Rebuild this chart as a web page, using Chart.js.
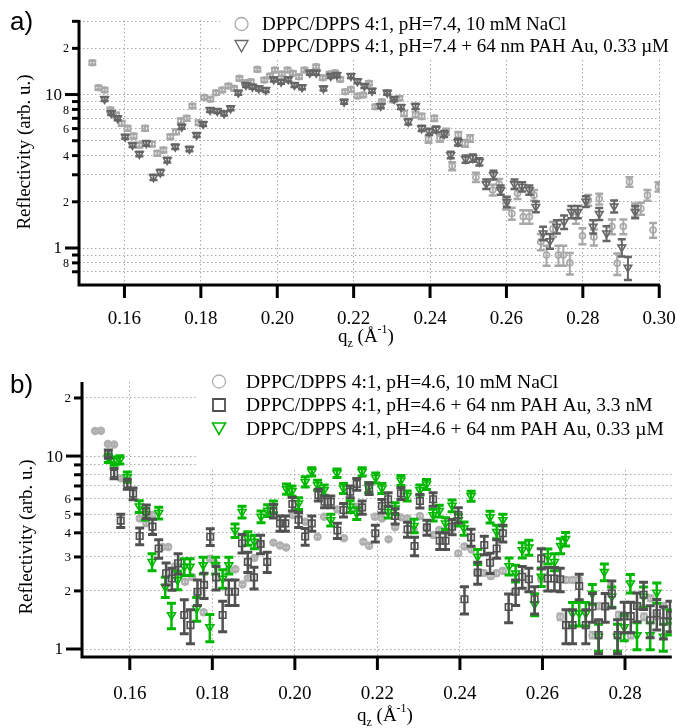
<!DOCTYPE html>
<html>
<head>
<meta charset="utf-8">
<script src="https://cdn.jsdelivr.net/npm/chart.js@4.4.1/dist/chart.umd.min.js"></script>
<style>
  html, body { margin: 0; padding: 0; background: #fff; }
  #wrap { position: relative; width: 678px; height: 728px; overflow: hidden; }
  canvas { position: absolute; left: 0; }
</style>
</head>
<body>
<div id="wrap">
  <canvas id="chartA" width="678" height="365" style="top:0"></canvas>
  <canvas id="chartB" width="678" height="363" style="top:365px"></canvas>
</div>
<script>
// ---------- panel a: pH 7.4 ----------
const labelsA = [
  'DPPC/DPPS 4:1, pH=7.4, 10 mM NaCl',
  'DPPC/DPPS 4:1, pH=7.4 + 64 nm PAH Au, 0.33 \u00b5M'
];
const qA_salt = [0.1516,0.1532,0.1548,0.1563,0.1578,0.1593,0.1608,0.1624,0.1639,0.1654,
  0.1672,0.1686,0.1702,0.1720,0.1735,0.1748,0.1763,0.1778,0.1794,0.1809,
  0.1825,0.1840,0.1856,0.1872,0.1887,0.1901,0.1916,0.1931,0.1948,0.1966,
  0.1981,0.1994,0.2012,0.2027,0.2041,0.2057,0.2071,0.2088,0.2102,0.2119,
  0.2137,0.2151,0.2165,0.2178,0.2193,0.2210,0.2225,0.2240,0.2257,0.2274,
  0.2287,0.2303,0.2320,0.2332,0.2362,0.2378,0.2396,0.2411,0.2426,0.2442,
  0.2458,0.2474,0.2492,0.2505,0.2520,0.2564,0.2581,0.2599,0.2614,0.2629,
  0.2644,0.2660,0.2672,0.2690,0.2705,0.2722,0.2736,0.2749,0.2766,0.2782,
  0.2799,0.2814,0.2829,0.2843,0.2876,0.2890,0.2906,0.2922,0.2937,0.2952,
  0.2969,0.2984,0.2998];
const rA_salt = [16.1,11.08,10.7,7.93,7.35,6.49,6.02,5.36,4.69,6.02,
  4.76,4.14,4.35,5.31,5.72,6.75,7.0,8.42,6.55,9.59,
  9.31,10.27,10.7,11.36,10.97,12.75,11.94,12.12,14.59,12.43,
  13.2,14.44,13.6,14.44,13.75,13.06,14.44,13.87,15.18,12.87,
  13.6,13.87,12.56,10.43,10.81,9.78,9.93,11.83,8.33,8.98,
  10.27,9.21,9.45,7.54,7.39,7.21,5.11,7.0,5.18,5.72,
  3.42,5.45,4.81,5.18,2.89,2.39,2.61,1.96,1.68,2.27,
  1.60,1.60,2.21,1.10,0.90,1.33,0.90,0.90,0.80,1.60,
  1.20,2.05,1.18,2.09,1.38,0.795,1.38,2.70,1.77,1.81,
  2.21,1.31,2.51];
// relative uncertainty of each point
const eA_salt = [0.03,0.03,0.03,0.035,0.035,0.035,0.035,0.035,0.035,0.035,
  0.035,0.035,0.035,0.035,0.035,0.035,0.035,0.03,0.035,0.03,
  0.03,0.03,0.03,0.03,0.03,0.03,0.03,0.03,0.03,0.03,
  0.03,0.03,0.03,0.03,0.03,0.03,0.03,0.03,0.03,0.03,
  0.03,0.03,0.03,0.03,0.03,0.03,0.03,0.03,0.03,0.03,
  0.03,0.03,0.03,0.04,0.04,0.04,0.05,0.04,0.05,0.045,
  0.06,0.045,0.05,0.05,0.07,0.08,0.08,0.09,0.09,0.08,
  0.10,0.10,0.08,0.12,0.15,0.11,0.15,0.15,0.16,0.10,
  0.12,0.08,0.12,0.08,0.11,0.16,0.11,0.07,0.10,0.09,
  0.08,0.11,0.07];

const qA_pah = [0.1548,0.1565,0.1582,0.1602,0.1621,0.1639,0.1657,0.1676,0.1694,0.1712,
  0.1733,0.1750,0.1770,0.1789,0.1806,0.1824,0.1843,0.1861,0.1878,0.1898,
  0.1918,0.1935,0.1952,0.1970,0.1991,0.2010,0.2029,0.2045,0.2065,0.2085,
  0.2102,0.2121,0.2140,0.2156,0.2175,0.2193,0.2210,0.2228,0.2248,0.2271,
  0.2288,0.2306,0.2324,0.2343,0.2362,0.2378,0.2398,0.2416,0.2437,0.2454,
  0.2473,0.2493,0.2512,0.2529,0.2547,0.2566,0.2585,0.2601,0.2621,0.2641,
  0.2660,0.2677,0.2696,0.2714,0.2732,0.2751,0.2770,0.2787,0.2808,0.2827,
  0.2843,0.2862,0.2882,0.2902,0.2918,0.2937];
const rA_pah = [9.35,7.58,7.0,5.31,4.69,4.10,4.81,2.89,3.11,3.74,
  4.57,6.17,4.42,5.45,6.43,7.93,7.81,7.54,8.13,10.27,
  11.53,11.24,10.97,10.7,12.56,12.12,12.56,11.53,11.14,13.87,
  13.87,10.97,13.2,13.4,8.98,13.2,12.19,11.36,10.6,8.42,
  10.27,9.35,8.29,6.65,8.38,6.02,5.72,5.93,5.53,4.04,
  4.90,3.80,3.86,3.65,2.61,2.99,2.39,2.00,2.61,2.51,
  2.39,1.86,1.25,1.11,1.38,1.48,1.72,1.72,2.01,1.38,
  1.67,1.25,1.87,1.01,0.746,1.72];
const eA_pah = [0.03,0.03,0.03,0.03,0.03,0.035,0.035,0.04,0.04,0.035,
  0.035,0.03,0.035,0.03,0.03,0.03,0.03,0.03,0.03,0.03,
  0.03,0.03,0.03,0.03,0.03,0.03,0.03,0.03,0.03,0.03,
  0.03,0.03,0.03,0.03,0.03,0.03,0.03,0.03,0.03,0.03,
  0.03,0.03,0.03,0.04,0.04,0.04,0.045,0.045,0.045,0.05,
  0.05,0.055,0.055,0.055,0.07,0.065,0.07,0.08,0.07,0.07,
  0.07,0.08,0.10,0.11,0.10,0.10,0.09,0.09,0.08,0.10,
  0.09,0.11,0.09,0.13,0.17,0.09];

// ---------- panel b: pH 4.6 ----------
const labelsB = [
  'DPPC/DPPS 4:1, pH=4.6, 10 mM NaCl',
  'DPPC/DPPS 4:1, pH=4.6 + 64 nm PAH Au, 3.3 nM',
  'DPPC/DPPS 4:1, pH=4.6 + 64 nm PAH Au, 0.33 \u00b5M'
];
const qB_salt = [0.1516,0.1530,0.1547,0.1562,0.1578,0.1624,0.1640,0.1654,0.1679,0.1693,
  0.1710,0.1734,0.1751,0.1765,0.1779,0.1794,0.1806,0.1840,0.1856,0.1873,
  0.1886,0.1902,0.1917,0.1948,0.1964,0.1979,0.1994,0.2009,0.2025,0.2055,
  0.2071,0.2103,0.2119,0.2150,0.2166,0.2180,0.2194,0.2211,0.2227,0.2243,
  0.2257,0.2273,0.2288,0.2303,0.2319,0.2335,0.2350,0.2365,0.2381,0.2396,
  0.2411,0.2428,0.2443,0.2458,0.2475,0.2488,0.2504,0.2535,0.2597,0.2643,
  0.2657,0.2673,0.2688,0.2721,0.2737,0.2753,0.2766,0.2785,0.2798,0.2814,
  0.2832,0.2846,0.2862,0.2878,0.2893,0.2909];
const rB_salt = [13.48,13.53,11.54,11.47,7.66,4.75,4.48,4.95,3.38,3.38,
  2.69,2.23,2.36,1.95,1.55,2.94,2.78,2.59,2.59,2.16,
  2.33,2.96,3.49,3.56,3.44,3.36,4.95,4.95,4.57,3.82,
  4.85,5.29,3.75,5.46,3.60,3.43,4.85,4.75,3.70,4.27,
  4.81,4.75,4.14,4.89,4.24,3.90,4.14,4.10,4.24,3.13,
  3.40,3.28,2.48,2.48,2.39,2.47,2.54,2.00,2.30,1.47,
  2.28,2.28,2.28,1.18,1.67,1.67,2.10,1.50,1.48,1.18,
  1.67,1.47,1.83,1.48,1.67,1.50];
const eB_salt = [0.015,0.015,0.015,0.015,0.02,0.02,0.02,0.02,0.02,0.02,
  0.025,0.025,0.025,0.025,0.025,0.02,0.02,0.02,0.02,0.02,
  0.02,0.02,0.02,0.02,0.02,0.02,0.02,0.02,0.02,0.02,
  0.02,0.02,0.02,0.02,0.02,0.02,0.02,0.02,0.02,0.02,
  0.02,0.02,0.02,0.02,0.02,0.02,0.02,0.02,0.02,0.025,
  0.025,0.025,0.03,0.03,0.03,0.03,0.03,0.03,0.03,0.04,
  0.03,0.03,0.03,0.04,0.035,0.035,0.035,0.04,0.04,0.04,
  0.035,0.04,0.035,0.04,0.035,0.04];

const qB_low = [0.1548,0.1562,0.1578,0.1594,0.1608,0.1624,0.1640,0.1655,0.1670,0.1688,
  0.1702,0.1717,0.1732,0.1747,0.1764,0.1780,0.1795,0.1809,0.1825,0.1840,
  0.1855,0.1872,0.1886,0.1901,0.1917,0.1933,0.1948,0.1964,0.1977,0.1994,
  0.2009,0.2025,0.2041,0.2057,0.2072,0.2087,0.2103,0.2118,0.2134,0.2150,
  0.2163,0.2180,0.2195,0.2211,0.2226,0.2243,0.2257,0.2273,0.2290,0.2303,
  0.2320,0.2335,0.2351,0.2365,0.2381,0.2396,0.2411,0.2427,0.2443,0.2459,
  0.2473,0.2489,0.2504,0.2518,0.2535,0.2551,0.2567,0.2581,0.2597,0.2613,
  0.2629,0.2643,0.2657,0.2673,0.2689,0.2705,0.2721,0.2736,0.2752,0.2768,
  0.2782,0.2798,0.2814,0.2829,0.2845,0.2861,0.2877,0.2893,0.2909];
const rB_low = [10.24,8.12,4.63,7.16,6.39,3.85,5.16,4.31,3.32,2.47,
  2.32,2.78,1.50,1.33,1.98,2.15,3.82,2.35,1.50,1.98,
  1.98,3.53,2.83,2.35,3.50,2.83,5.19,4.48,4.48,5.64,
  4.68,3.83,4.48,6.28,5.80,5.80,4.11,5.25,6.53,7.16,
  5.42,6.80,3.98,5.51,5.97,4.89,6.41,4.17,3.42,5.85,
  4.27,5.97,3.64,3.64,4.30,4.95,1.81,3.79,2.49,3.46,
  2.80,3.32,3.98,1.65,1.98,2.37,2.30,1.81,2.95,2.32,
  2.32,2.30,1.33,1.33,2.12,1.33,1.66,1.18,1.66,1.94,
  1.18,1.48,1.48,1.67,1.91,1.41,1.53,1.39,1.50];
const eB_low = [0.05,0.06,0.08,0.06,0.07,0.10,0.08,0.09,0.11,0.13,
  0.13,0.12,0.20,0.20,0.15,0.15,0.10,0.14,0.18,0.15,
  0.15,0.11,0.12,0.13,0.11,0.12,0.08,0.09,0.09,0.08,
  0.09,0.10,0.09,0.07,0.07,0.07,0.09,0.08,0.07,0.07,
  0.08,0.07,0.10,0.08,0.08,0.09,0.07,0.09,0.11,0.08,
  0.09,0.08,0.10,0.10,0.09,0.09,0.16,0.10,0.13,0.11,
  0.12,0.11,0.10,0.17,0.15,0.13,0.14,0.16,0.12,0.14,
  0.14,0.14,0.20,0.20,0.15,0.20,0.17,0.20,0.17,0.16,
  0.20,0.18,0.18,0.17,0.16,0.19,0.18,0.19,0.18];

const qB_high = [0.1548,0.1562,0.1576,0.1594,0.1623,0.1638,0.1654,0.1670,0.1686,0.1701,
  0.1716,0.1732,0.1746,0.1762,0.1778,0.1794,0.1808,0.1825,0.1840,0.1855,
  0.1872,0.1886,0.1902,0.1918,0.1934,0.1948,0.1980,0.1993,0.2009,0.2025,
  0.2041,0.2055,0.2071,0.2087,0.2102,0.2118,0.2134,0.2150,0.2163,0.2179,
  0.2196,0.2211,0.2226,0.2243,0.2257,0.2272,0.2289,0.2303,0.2319,0.2335,
  0.2350,0.2365,0.2381,0.2396,0.2410,0.2427,0.2443,0.2473,0.2489,0.2504,
  0.2519,0.2535,0.2551,0.2567,0.2581,0.2597,0.2613,0.2629,0.2644,0.2656,
  0.2673,0.2689,0.2705,0.2721,0.2736,0.2750,0.2768,0.2782,0.2798,0.2813,
  0.2829,0.2845,0.2861,0.2877,0.2893,0.2909];
const rB_high = [9.76,9.42,9.57,7.79,5.49,5.01,2.83,5.08,2.10,1.50,
  2.28,2.67,2.67,1.62,2.72,1.30,2.72,2.32,2.72,4.11,
  5.14,3.75,3.60,4.85,5.22,5.46,6.75,6.59,5.69,7.36,
  8.29,7.07,6.67,4.66,8.16,6.80,5.49,5.05,8.29,6.87,
  7.71,6.80,5.13,5.36,7.48,6.22,4.35,6.67,7.14,4.95,
  5.20,4.48,5.54,4.66,4.22,6.20,3.01,4.83,4.05,4.66,
  2.69,2.47,3.26,3.36,1.71,2.37,3.03,2.83,3.42,3.72,
  1.53,1.53,1.53,1.93,1.16,2.51,1.87,1.16,1.30,2.19,
  1.18,1.87,1.18,1.96,1.16,1.39];
const eB_high = [0.05,0.05,0.05,0.06,0.07,0.07,0.10,0.07,0.12,0.15,
  0.11,0.10,0.10,0.14,0.10,0.16,0.10,0.11,0.10,0.08,
  0.07,0.08,0.08,0.07,0.07,0.07,0.06,0.06,0.07,0.06,
  0.05,0.06,0.06,0.07,0.05,0.06,0.07,0.07,0.05,0.06,
  0.06,0.06,0.07,0.07,0.06,0.06,0.08,0.06,0.06,0.07,
  0.07,0.07,0.07,0.07,0.08,0.06,0.09,0.07,0.08,0.07,
  0.10,0.10,0.09,0.09,0.13,0.11,0.09,0.10,0.09,0.08,
  0.14,0.14,0.14,0.12,0.16,0.10,0.12,0.16,0.15,0.11,
  0.16,0.12,0.16,0.12,0.16,0.15];

// ---------- axis ticks ----------
const xTicksA = [0.16, 0.18, 0.20, 0.22, 0.24, 0.26, 0.28, 0.30];
const xTicksB = [0.16, 0.18, 0.20, 0.22, 0.24, 0.26, 0.28];
const yTicksA = [30, 20, 10, 9, 8, 7, 6, 5, 4, 3, 2, 1, 0.9, 0.8, 0.7];
const yTickLabelsA = ['', '2', '10', '', '8', '', '6', '', '4', '', '2', '1', '', '8', ''];
const yTicksB = [20, 10, 9, 8, 7, 6, 5, 4, 3, 2, 1];
const yTickLabelsB = ['2', '10', '', '', '', '6', '5', '4', '3', '2', '1'];
const yMajor = [10, 1];

const SERIF = '"Liberation Serif", "Times New Roman", serif';
const SANS = '"Liberation Sans", Arial, sans-serif';

function points(q, r) { return q.map((v, i) => ({ x: v, y: r[i] })); }

// vertical error bars, drawn just before each dataset's markers
const errorBars = {
  id: 'errorBars',
  beforeDatasetDraw(chart, args) {
    const ds = chart.data.datasets[args.index];
    if (!ds.errors) return;
    const { ctx, chartArea: a, scales: { x, y } } = chart;
    ctx.save();
    ctx.beginPath();
    ctx.rect(a.left, a.top, a.right - a.left, a.bottom - a.top);
    ctx.clip();
    ctx.strokeStyle = ds.barColor || ds.borderColor;
    ctx.lineCap = 'butt';
    ds.data.forEach((p, i) => {
      const e = ds.errors[i] * p.y;
      const px = x.getPixelForValue(p.x);
      const y1 = y.getPixelForValue(p.y - e);
      const y2 = y.getPixelForValue(p.y + e);
      ctx.lineWidth = ds.stemWidth;
      ctx.beginPath();
      ctx.moveTo(px, y1); ctx.lineTo(px, y2);
      ctx.stroke();
      ctx.lineWidth = ds.capWidth;
      ctx.beginPath();
      ctx.moveTo(px - ds.cap, y1); ctx.lineTo(px + ds.cap, y1);
      ctx.moveTo(px - ds.cap, y2); ctx.lineTo(px + ds.cap, y2);
      ctx.stroke();
    });
    ctx.restore();
  }
};

function drawSymbol(ctx, kind, x, y, s, color, lw) {
  ctx.save();
  ctx.strokeStyle = color;
  ctx.lineWidth = lw;
  ctx.beginPath();
  if (kind === 'circle') {
    ctx.arc(x, y, s, 0, Math.PI * 2);
  } else if (kind === 'square') {
    ctx.rect(x - s, y - s, 2 * s, 2 * s);
  } else {
    ctx.moveTo(x - s, y - s * 0.85);
    ctx.lineTo(x + s, y - s * 0.85);
    ctx.lineTo(x, y + s * 0.9);
    ctx.closePath();
  }
  ctx.stroke();
  ctx.restore();
}

function drawQz(ctx, x, base, size) {
  ctx.save();
  ctx.fillStyle = '#000';
  ctx.textAlign = 'left';
  ctx.textBaseline = 'alphabetic';
  const big = size + 'px ' + SERIF;
  const small = Math.round(size * 0.62) + 'px ' + SERIF;
  ctx.font = big; ctx.fillText('q', x, base); x += ctx.measureText('q').width;
  ctx.font = small; ctx.fillText('z', x, base + size * 0.25); x += ctx.measureText('z').width;
  ctx.font = big; ctx.fillText(' (\u00c5', x, base); x += ctx.measureText(' (\u00c5').width;
  ctx.font = small; ctx.fillText('-1', x, base - size * 0.45); x += ctx.measureText('-1').width;
  ctx.font = big; ctx.fillText(')', x, base);
  ctx.restore();
}

function decorations(cfg) {
  return {
    id: 'decorations',
    beforeDatasetsDraw(chart) {
      // legend box over the grid, under the data
      const ctx = chart.ctx;
      const L = cfg.legend;
      ctx.save();
      ctx.fillStyle = '#fff';
      ctx.fillRect(L.box[0], L.box[1], L.box[2], L.box[3]);
      ctx.font = L.font;
      ctx.textAlign = 'left';
      ctx.textBaseline = 'middle';
      L.items.forEach((it, i) => {
        const yy = L.y0 + i * L.dy;
        drawSymbol(ctx, it.kind, L.mx, yy, it.size, it.color, it.lw);
        ctx.fillStyle = '#000';
        ctx.fillText(it.label, L.tx, yy + 1);
      });
      ctx.restore();
    },
    afterDraw(chart) {
      const { ctx, chartArea: a, scales: { x, y } } = chart;
      ctx.save();
      ctx.strokeStyle = '#000';
      ctx.fillStyle = '#000';
      ctx.lineCap = 'butt';
      ctx.lineWidth = 3;
      ctx.beginPath();
      ctx.moveTo(a.left, a.top);
      ctx.lineTo(a.left, a.bottom + 1.5);
      ctx.moveTo(a.left - 1.5, a.bottom);
      ctx.lineTo(a.right, a.bottom);
      ctx.stroke();
      // y ticks
      cfg.yTicks.forEach((v, i) => {
        const py = y.getPixelForValue(v);
        const major = yMajor.includes(v);
        const len = major ? cfg.majorLen : cfg.minorLen;
        ctx.lineWidth = 3;
        ctx.beginPath();
        ctx.moveTo(a.left - len, py); ctx.lineTo(a.left, py);
        ctx.stroke();
        const lab = cfg.yLabels[i];
        if (lab) {
          ctx.font = (major ? cfg.majorFont : cfg.minorFont) + 'px ' + SERIF;
          ctx.textAlign = 'right';
          ctx.textBaseline = 'middle';
          ctx.fillText(lab, a.left - (major ? cfg.majorGap : cfg.minorGap), py + 1);
        }
      });
      // x ticks
      ctx.font = cfg.xFont + 'px ' + SERIF;
      ctx.textAlign = 'center';
      ctx.textBaseline = 'top';
      cfg.xTicks.forEach(v => {
        const px = x.getPixelForValue(v);
        ctx.lineWidth = 3;
        ctx.beginPath();
        ctx.moveTo(px, a.bottom); ctx.lineTo(px, a.bottom + cfg.xTickLen);
        ctx.stroke();
        ctx.fillText(v.toFixed(2), px, a.bottom + cfg.xLabelGap);
      });
      // axis titles
      drawQz(ctx, cfg.qz[0], cfg.qz[1], cfg.titleFont);
      ctx.save();
      ctx.translate(cfg.yTitle[0], cfg.yTitle[1]);
      ctx.rotate(-Math.PI / 2);
      ctx.font = cfg.titleFont + 'px ' + SERIF;
      ctx.textAlign = 'center';
      ctx.textBaseline = 'middle';
      ctx.fillText('Reflectivity (arb. u.)', 0, 0);
      ctx.restore();
      // panel letter
      ctx.font = '26px ' + SANS;
      ctx.textAlign = 'left';
      ctx.textBaseline = 'alphabetic';
      ctx.fillText(cfg.letter, cfg.letterPos[0], cfg.letterPos[1]);
      ctx.restore();
    }
  };
}

function buildChart(canvasId, datasets, sc, cfg) {
  return new Chart(document.getElementById(canvasId), {
    type: 'scatter',
    data: { datasets },
    options: {
      responsive: false,
      animation: false,
      events: [],
      layout: { padding: sc.padding },
      plugins: { legend: { display: false }, tooltip: { enabled: false } },
      scales: {
        x: {
          type: 'linear', min: sc.xMin, max: sc.xMax,
          afterFit: s => { s.height = sc.xHeight; },
          afterBuildTicks: s => { s.ticks = cfg.xTicks.map(v => ({ value: v })); },
          ticks: { display: false },
          grid: { color: '#a9a9a9', lineWidth: 1, drawTicks: false },
          border: { display: false, dash: [1.5, 2.5] }
        },
        y: {
          type: 'logarithmic', min: sc.yMin, max: sc.yMax,
          afterFit: s => { s.width = sc.yWidth; },
          afterBuildTicks: s => { s.ticks = cfg.yTicks.map(v => ({ value: v })); },
          ticks: { display: false },
          grid: { color: '#a9a9a9', lineWidth: 1, drawTicks: false },
          border: { display: false, dash: [1.5, 2.5] }
        }
      }
    },
    plugins: [errorBars, decorations(cfg)]
  });
}

const grayA = '#a8a8a8', darkA = '#666666';
const grayB = '#b0b0b0', darkB = '#505050', green = '#00b800';

buildChart('chartA', [
  {
    label: labelsA[1], data: points(qA_pah, rA_pah), errors: eA_pah,
    pointStyle: 'triangle', rotation: 180, pointRadius: 4.4, borderWidth: 1.6,
    borderColor: darkA, backgroundColor: 'rgba(0,0,0,0)',
    stemWidth: 2, capWidth: 2.5, cap: 4, order: 1
  },
  {
    label: labelsA[0], data: points(qA_salt, rA_salt), errors: eA_salt,
    pointStyle: 'circle', pointRadius: 3, borderWidth: 1.6,
    borderColor: grayA, backgroundColor: 'rgba(0,0,0,0)',
    stemWidth: 2, capWidth: 2.5, cap: 4, order: 2
  }
], { padding: { left: 0, top: 20, right: 18, bottom: 0 }, xMin: 0.1481, xMax: 0.3002, yMin: 0.574, yMax: 30.6, xHeight: 80, yWidth: 79 }, {
  xTicks: xTicksA, yTicks: yTicksA, yLabels: yTickLabelsA,
  majorLen: 14, minorLen: 7, majorGap: 17, minorGap: 10,
  majorFont: 17, minorFont: 12, xFont: 19, xTickLen: 13, xLabelGap: 25,
  titleFont: 19, qz: [338, 342], yTitle: [25, 152],
  letter: 'a)', letterPos: [10, 30],
  legend: {
    box: [220, 0, 458, 60], font: '19px ' + SERIF, mx: 241.5, tx: 262, y0: 24, dy: 22,
    items: [
      { kind: 'circle', label: labelsA[0], color: grayA, size: 6.5, lw: 1.3 },
      { kind: 'triangle', label: labelsA[1], color: darkA, size: 6.5, lw: 1.3 }
    ]
  }
});

buildChart('chartB', [
  {
    label: labelsB[1], data: points(qB_low, rB_low), errors: eB_low,
    pointStyle: 'rect', pointRadius: 4.6, borderWidth: 1.6,
    borderColor: darkB, backgroundColor: 'rgba(0,0,0,0)',
    stemWidth: 2.5, capWidth: 3, cap: 4.5, order: 1
  },
  {
    label: labelsB[2], data: points(qB_high, rB_high), errors: eB_high,
    pointStyle: 'triangle', rotation: 180, pointRadius: 4.6, borderWidth: 1.6,
    borderColor: green, backgroundColor: 'rgba(0,0,0,0)',
    stemWidth: 2.5, capWidth: 3, cap: 4.5, order: 2
  },
  {
    label: labelsB[0], data: points(qB_salt, rB_salt), errors: eB_salt,
    pointStyle: 'circle', pointRadius: 3.2, borderWidth: 2,
    borderColor: grayB, backgroundColor: 'rgba(176,176,176,0.45)',
    stemWidth: 1.5, capWidth: 2, cap: 3.5, order: 3
  }
], { padding: { left: 0, top: 17, right: 0, bottom: 0 }, xMin: 0.14842, xMax: 0.29134, yMin: 0.909, yMax: 24.2, xHeight: 71, yWidth: 82 }, {
  xTicks: xTicksB, yTicks: yTicksB, yLabels: yTickLabelsB,
  majorLen: 16, minorLen: 8, majorGap: 19, minorGap: 11,
  majorFont: 17, minorFont: 13, xFont: 19, xTickLen: 13, xLabelGap: 28,
  titleFont: 19, qz: [357, 356], yTitle: [27, 172],
  letter: 'b)', letterPos: [10, 28],
  legend: {
    box: [198, 0, 480, 105], font: '19.5px ' + SERIF, mx: 219, tx: 246, y0: 16.5, dy: 23.5,
    items: [
      { kind: 'circle', label: labelsB[0], color: grayB, size: 6.5, lw: 1.3 },
      { kind: 'square', label: labelsB[1], color: darkB, size: 6, lw: 1.8 },
      { kind: 'triangle', label: labelsB[2], color: green, size: 6.5, lw: 1.6 }
    ]
  }
});
</script>
</body>
</html>
